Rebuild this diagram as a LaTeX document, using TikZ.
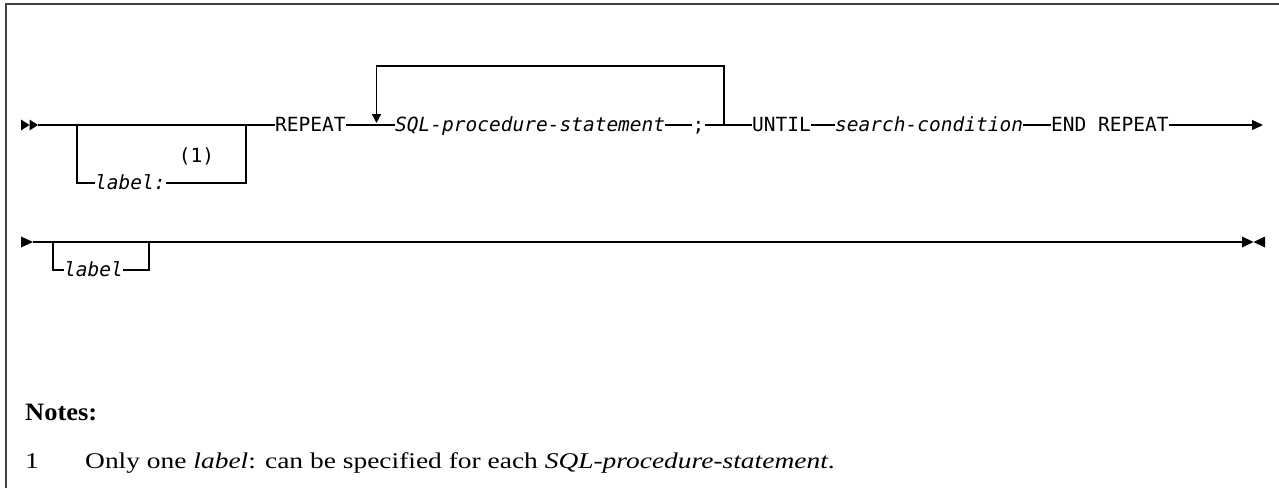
\documentclass[tikz,border=0pt]{standalone}
\usepackage{fontspec}
\setmainfont{Liberation Serif}
\newfontfamily\monofont{DejaVu Sans Mono}
\newfontfamily\notefont[FakeStretch=1.22]{Liberation Serif}
\newfontfamily\notehead[FakeStretch=1.06]{Liberation Serif}
\usetikzlibrary{arrows.meta}
\tikzset{
  rail/.style={line width=1.3pt, black},
  kw/.style={inner sep=0pt, anchor=west, text height=15pt, text depth=3pt, font=\monofont\fontsize{19.5}{22}\selectfont},
  var/.style={kw, font=\monofont\itshape\fontsize{19.5}{22}\selectfont},
  tip/.style={fill=black, draw=none},
  note/.style={inner sep=0pt, anchor=base west, font=\notefont\fontsize{22.5}{27}\selectfont},
  frame/.style={line width=2pt, black!75}
}
\begin{document}
\begin{tikzpicture}[x=1pt,y=-1pt]
\useasboundingbox (0,0) rectangle (1279,488);
\draw[frame] (6,488) -- (6,4) -- (1279,4);
% ---- line 1
\fill[tip] (21,119.5) -- (29.5,125) -- (21,130.5) -- cycle;
\fill[tip] (29.5,119.5) -- (38,125) -- (29.5,130.5) -- cycle;
\coordinate (s1) at (38,125);
\coordinate (b1l) at (77,125);
\coordinate (b1r) at (246,125);
\coordinate (loopL) at (376.5,125);
\coordinate (loopR) at (724,125);
\coordinate (e1) at (1263,125);
\node[kw] (rep) at (275,125) {REPEAT};
\node[var] (sql) at (395,125) {SQL-procedure-statement};
\node[kw, anchor=center] (semi) at (698.5,125) {;};
\node[kw] (until) at (752,125) {UNTIL};
\node[var] (search) at (835,125) {search-condition};
\node[kw] (endrep) at (1051,125) {END REPEAT};
\node[var] (lbl1) at (95,183) {label:};
\node[kw, anchor=center] (one) at (196.5,156) {(1)};
\draw[rail] (s1) -- (rep.west);
\draw[rail] (b1l) |- (lbl1.west);
\draw[rail] (lbl1.east) -| (b1r);
\draw[rail] (rep.east) -- (sql.west);
\draw[rail, -{Triangle[length=9pt,width=9pt]}, shorten >=2pt] (loopR) |- (550,66) -| (loopL);
\draw[rail] (sql.east) -- (semi.west);
\draw[rail] (semi.east) -- (until.west);
\draw[rail] (until.east) -- (search.west);
\draw[rail] (search.east) -- (endrep.west);
\draw[rail, -{Triangle[length=11pt,width=10pt]}] (endrep.east) -- (e1);
% ---- line 2
\fill[tip] (21,236.5) -- (33,242) -- (21,247.5) -- cycle;
\coordinate (s2) at (33,242);
\coordinate (b2l) at (53,242);
\coordinate (b2r) at (149,242);
\coordinate (e2) at (1242,242);
\node[var] (lbl2) at (64,270) {label};
\draw[rail] (s2) -- (e2);
\draw[rail] (b2l) |- (lbl2.west);
\draw[rail] (lbl2.east) -| (b2r);
\fill[tip] (1242,236.5) -- (1253.5,242) -- (1242,247.5) -- cycle;
\fill[tip] (1265,236.5) -- (1253.5,242) -- (1265,247.5) -- cycle;
% ---- notes
\node[note, font=\notehead\bfseries\fontsize{25}{29}\selectfont] (notes) at (25,420) {Notes:};
\node[note] (n1) at (25,468) {1};
\node[note] (n1t) at (85,468) {Only one \textit{label}: can be specified for each \textit{SQL-procedure-statement}.};
\end{tikzpicture}
\end{document}
